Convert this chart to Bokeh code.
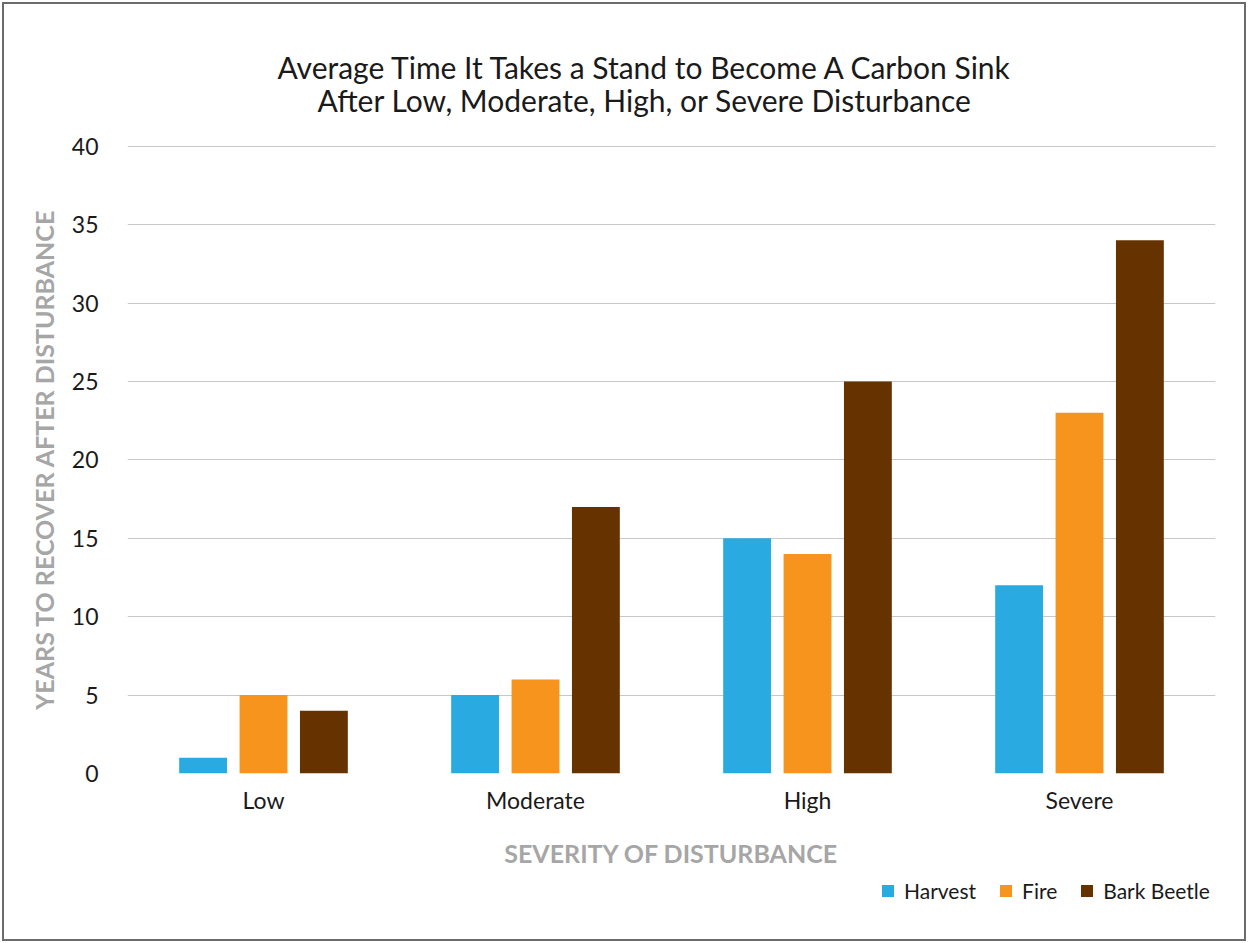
from bokeh.plotting import figure
from bokeh.layouts import column
from bokeh.models import ColumnDataSource, FactorRange, Range1d, FixedTicker, Legend, LegendItem, Title
from bokeh.transform import dodge
from bokeh.embed import file_html
from bokeh.resources import INLINE

categories = ["Low", "Moderate", "High", "Severe"]
harvest = [1, 5, 15, 12]
fire = [5, 6, 14, 23]
bark_beetle = [4, 17, 25, 34]
y_ticks = [0, 5, 10, 15, 20, 25, 30, 35, 40]
series_names = ["Harvest", "Fire", "Bark Beetle"]
colors = ["#29abe2", "#f7941d", "#663300"]
title_lines = ["Average Time It Takes a Stand to Become A Carbon Sink",
               "After Low, Moderate, High, or Severe Disturbance"]

src = ColumnDataSource(dict(cat=categories, harvest=harvest, fire=fire, beetle=bark_beetle))
keys = ["harvest", "fire", "beetle"]
offsets = [-0.222, 0.0, 0.222]

FONT = "Lato"
p = figure(width=1240, height=869, x_range=FactorRange(*categories), y_range=Range1d(0, 40.05),
           output_backend="svg", toolbar_location=None, title_location=None,
           min_border_left=123, min_border_right=29, min_border_top=141, min_border_bottom=100)

t2 = Title(text=title_lines[1], align="left", offset=190, standoff=56,
           text_font=FONT, text_font_size="30px", text_font_style="normal", text_color="#1a1a1a")
t1 = Title(text=title_lines[0], align="left", offset=150, standoff=-67,
           text_font=FONT, text_font_size="30px", text_font_style="normal", text_color="#1a1a1a")
p.add_layout(t2, "above")
p.add_layout(t1, "above")

for key, off, col in zip(keys, offsets, colors):
    p.vbar(x=dodge("cat", off, range=p.x_range), top=key, width=0.176, source=src,
           fill_color=col, line_color=None)

p.outline_line_color = None
p.xgrid.grid_line_color = None
p.ygrid.grid_line_color = "#c8c8c8"
p.ygrid.grid_line_width = 1.2
p.yaxis.ticker = FixedTicker(ticks=y_ticks)

for ax in (p.xaxis[0], p.yaxis[0]):
    ax.axis_line_color = None
    ax.major_tick_line_color = None
    ax.minor_tick_line_color = None
    ax.major_label_text_font = FONT
    ax.major_label_text_font_size = "23px"
    ax.major_label_text_color = "#1a1a1a"
    ax.axis_label_text_font = FONT
    ax.axis_label_text_font_size = "25px"
    ax.axis_label_text_font_style = "bold"
    ax.axis_label_text_color = "#a6a6a6"

p.yaxis.axis_label = "YEARS TO RECOVER AFTER DISTURBANCE"
p.yaxis.major_label_standoff = 23
p.yaxis.axis_label_standoff = 10
p.xaxis.axis_label = "SEVERITY OF DISTURBANCE"
p.xaxis.major_label_standoff = 6
p.xaxis.axis_label_standoff = 21

# legend strip below the chart (its renderers are hidden; only the legend shows)
lg = figure(width=1240, height=66, output_backend="svg", toolbar_location=None,
            x_range=FactorRange(*categories), y_range=Range1d(-1000, -990),
            x_axis_location=None, y_axis_location=None, title_location=None,
            min_border_left=0, min_border_right=0, min_border_top=0, min_border_bottom=0)
lg.grid.visible = False
lg.outline_line_color = None
items = []
for name, key, off, col in zip(series_names, keys, offsets, colors):
    r = lg.vbar(x=dodge("cat", off, range=lg.x_range), top=key, width=0.176, source=src,
                fill_color=col, line_color=None)
    r.visible = False
    items.append(LegendItem(label=name, renderers=[r]))

legend = Legend(items=items, orientation="horizontal", location=(753, 36),
                label_text_font=FONT, label_text_font_size="21px", label_text_color="#1a1a1a",
                glyph_width=15, glyph_height=15, label_standoff=9, spacing=22,
                padding=0, margin=0, border_line_color=None, background_fill_alpha=0,
                inactive_fill_alpha=0)
lg.add_layout(legend, "center")

layout = column(p, lg, spacing=0)
layout.styles = {"border": "2px solid #6b6b6b", "margin": "2px"}

open("out.html", "w").write(file_html(layout, INLINE))
